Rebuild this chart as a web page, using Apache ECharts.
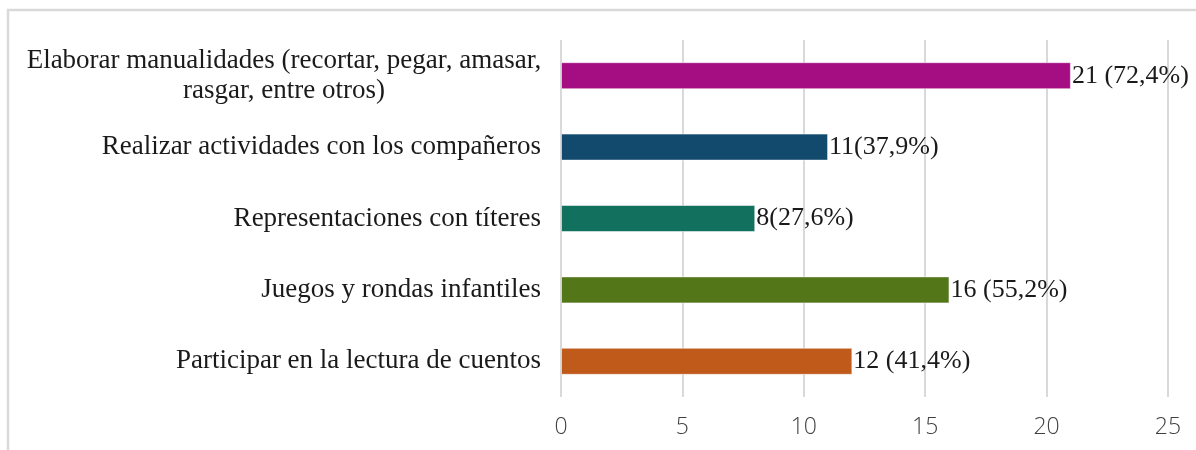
<!DOCTYPE html>
<html>
<head>
<meta charset="utf-8">
<script src="https://cdn.jsdelivr.net/npm/echarts@6/dist/echarts.min.js"></script>
<style>
  html, body { margin: 0; padding: 0; background: #fff; }
  #chart { width: 1196px; height: 450px; }
</style>
</head>
<body>
<div id="chart"></div>
<script>
// categorias (de abajo hacia arriba, como en el eje)
var categories = [
  'Participar en la lectura de cuentos',
  'Juegos y rondas infantiles',
  'Representaciones con títeres',
  'Realizar actividades con los compañeros',
  'Elaborar manualidades (recortar, pegar, amasar,\nrasgar, entre otros)'
];
var values = [12, 16, 8, 11, 21];
var valueLabels = ['12 (41,4%)', '16 (55,2%)', '8(27,6%)', '11(37,9%)', '21 (72,4%)'];
var barColors = ['#C05A1A', '#537619', '#12705E', '#124A6E', '#A50E82'];
var axisTicks = [0, 5, 10, 15, 20, 25];

var myChart = echarts.init(document.getElementById('chart'));

var data = [];
for (var i = 0; i < values.length; i++) {
  data.push({
    value: values[i],
    itemStyle: { color: barColors[i] },
    label: { formatter: valueLabels[i] }
  });
}

// etiqueta de dos lineas: lineas centradas entre si, bloque alineado a la derecha
var catData = categories.map(function (c) {
  if (c.indexOf('\n') < 0) return c;
  return {
    value: c,
    textStyle: { align: 'center', padding: [12, 514, 0, 0] }
  };
});

option = {
  animation: false,
  graphic: [{
    type: 'rect',
    shape: { x: 8, y: 10, width: 1250, height: 500 },
    style: { fill: 'none', stroke: '#d9d9d9', lineWidth: 2.5 },
    silent: true
  }],
  grid: {
    left: 561,
    right: 28,
    top: 40,
    bottom: 53
  },
  xAxis: {
    type: 'value',
    min: axisTicks[0],
    max: axisTicks[axisTicks.length - 1],
    interval: 5,
    axisLine: { show: false },
    axisTick: { show: false },
    splitLine: { show: true, lineStyle: { color: '#d9d9d9', width: 2 } },
    axisLabel: {
      margin: 19,
      fontFamily: 'Open Sans',
      fontWeight: 300,
      fontSize: 23,
      color: '#404040'
    }
  },
  yAxis: {
    type: 'category',
    data: catData,
    axisLine: { show: false },
    axisTick: { show: false },
    axisLabel: {
      margin: 20,
      fontFamily: 'Liberation Serif',
      fontSize: 27,
      lineHeight: 30,
      color: '#1a1a1a',
      align: 'right'
    }
  },
  series: [{
    type: 'bar',
    data: data,
    barWidth: 27,
    itemStyle: { borderColor: 'rgba(255,255,255,0.5)', borderWidth: 1 },
    label: {
      show: true,
      position: 'right',
      distance: 1,
      fontFamily: 'Liberation Serif',
      fontSize: 26,
      color: '#1a1a1a'
    }
  }]
};
myChart.setOption(option);
</script>
</body>
</html>
